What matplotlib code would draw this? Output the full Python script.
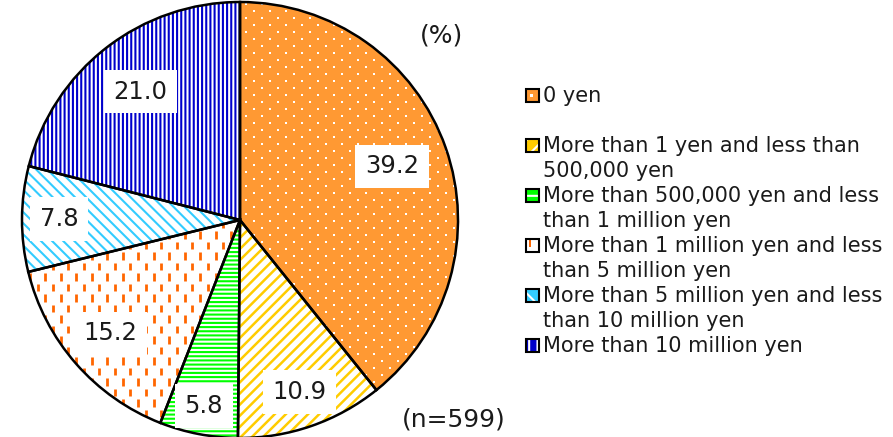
import numpy as np
import matplotlib
matplotlib.use("Agg")
import matplotlib.pyplot as plt
from matplotlib.patches import Rectangle
from matplotlib.collections import LineCollection

plt.rcParams['font.family'] = ['DejaVu Sans']

# Share of respondents by amount (%)
categories = [
    "0 yen",
    "More than 1 yen and less than\n500,000 yen",
    "More than 500,000 yen and less\nthan 1 million yen",
    "More than 1 million yen and less\nthan 5 million yen",
    "More than 5 million yen and less\nthan 10 million yen",
    "More than 10 million yen",
]
shares = [39.2, 10.9, 5.8, 15.2, 7.8, 21.0]
n_total = 599

face_colors = ['#FF9933', 'white', 'white', 'white', 'white', 'white']
hatch_colors = ['white', '#FFCC00', '#00FF00', '#FF6600', '#33CCFF', '#0000CC']
hatches = [None, '///', '----', None, '\\\\\\', '||||']
hatch_widths = [1.0, 1.8, 1.5, 1.0, 1.5, 1.5]
label_dist = [0.74, 0.835, 0.87, 0.79, 0.83, 0.745]

W, H = 893, 437
fig = plt.figure(figsize=(W / 100, H / 100), dpi=100)

cx, cy, r = 240, 220, 218
ax = fig.add_axes([(cx - r) / W, (H - cy - r) / H, 2 * r / W, 2 * r / H])

# filled wedges with hatch (hatch colour comes from edgecolor)
wedges, _ = ax.pie(shares, radius=1, startangle=90, counterclock=False,
                   wedgeprops=dict(linewidth=0))
for w, fc, hc, h, lw in zip(wedges, face_colors, hatch_colors, hatches, hatch_widths):
    w.set_facecolor(fc)
    w.set_edgecolor(hc)
    if h:
        w.set_hatch(h)
        if hasattr(w, 'set_hatch_linewidth'):
            w.set_hatch_linewidth(lw)

# white dots on the first wedge
u = 1 / r
ys = np.arange(-1, 1, 7 * u)
pts = []
for i, yy in enumerate(ys):
    off = 8 * u if i % 2 else 0
    for xx in np.arange(-1 + off, 1, 16 * u):
        pts.append((xx, yy))
pts = np.array(pts)
dots = ax.scatter(pts[:, 0], pts[:, 1], s=4, marker='s', c='white',
                  linewidths=0, zorder=3)
dots.set_clip_path(wedges[0])

# short vertical orange dashes on the fourth wedge
segs = []
for i, yy in enumerate(np.arange(-1, 1, 10.5 * u)):
    off = 7.7 * u if i % 2 else 0
    for xx in np.arange(-1 + off, 1, 15.5 * u):
        segs.append([(xx, yy), (xx, yy + 7.5 * u)])
dash = LineCollection(segs, colors='#FF6600', linewidths=2.0, zorder=3)
ax.add_collection(dash)
dash.set_clip_path(wedges[3])

# black outlines on top
outl, _ = ax.pie(shares, radius=1, startangle=90, counterclock=False,
                 wedgeprops=dict(facecolor='none', edgecolor='black', linewidth=1.8))
for p in outl:
    p.set_zorder(4)
    p.set_clip_on(False)

ax.set_xlim(-1, 1)
ax.set_ylim(-1, 1)
ax.set_aspect('equal')
ax.axis('off')

# value labels in white boxes
for w, val, d in zip(wedges, shares, label_dist):
    ang = np.deg2rad((w.theta1 + w.theta2) / 2)
    ax.text(d * np.cos(ang), d * np.sin(ang), f"{val:.1f}", fontsize=17.5,
            ha='center', va='center', zorder=5, color='#1a1a1a',
            bbox=dict(boxstyle='square,pad=0.4', facecolor='white', edgecolor='none'))


def fx(x):
    return x / W


def fy(y):
    return 1 - y / H


fig.text(fx(441), fy(35), "(%)", fontsize=18, ha='center', va='center', color='#1a1a1a')
fig.text(fx(454), fy(419), f"(n={n_total})", fontsize=18, ha='center', va='center',
         color='#1a1a1a')

# legend keys: solid colour with a couple of white hatch lines
key_face = ['#FF9933', '#FFCC00', '#00FF00', 'white', '#33CCFF', '#0000CC']
key_hatch = [None, '//', '--', None, '\\\\', '||']
for row, (cat, kf, kh) in enumerate(zip(categories, key_face, key_hatch)):
    top = 95 + 50 * row
    sq = Rectangle((fx(526), fy(top + 6.5)), 13 / W, 13 / H, transform=fig.transFigure,
                   facecolor=kf, edgecolor='white', hatch=kh, linewidth=0)
    if kh and hasattr(sq, 'set_hatch_linewidth'):
        sq.set_hatch_linewidth(1.5)
    fig.add_artist(sq)
    if row == 0:
        fig.add_artist(Rectangle((fx(530), fy(top + 1.5)), 3 / W, 3 / H,
                                 transform=fig.transFigure, facecolor='white',
                                 edgecolor='none'))
    if row == 3:
        fig.add_artist(Rectangle((fx(529), fy(top + 2)), 2 / W, 7 / H,
                                 transform=fig.transFigure, facecolor='#FF6600',
                                 edgecolor='none'))
    fig.add_artist(Rectangle((fx(526), fy(top + 6.5)), 13 / W, 13 / H,
                             transform=fig.transFigure, facecolor='none',
                             edgecolor='black', linewidth=1.5))
    for k, line in enumerate(cat.split('\n')):
        fig.text(fx(543), fy(top + 7 + 25 * k), line, fontsize=15,
                 ha='left', va='baseline', color='#1a1a1a')

fig.savefig("out.png", dpi=100)
